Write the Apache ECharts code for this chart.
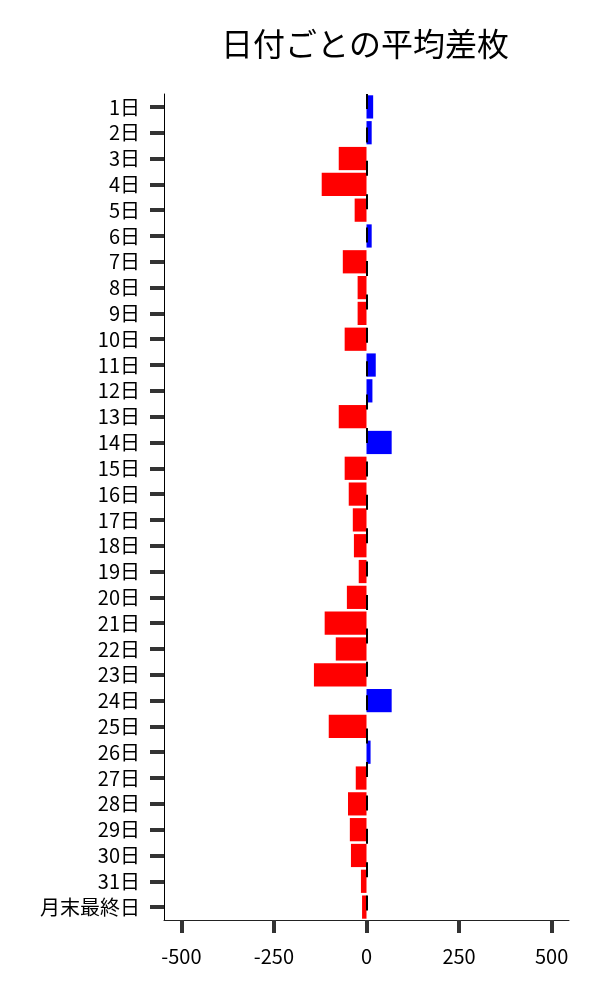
<!DOCTYPE html>
<html>
<head>
<meta charset="utf-8">
<script src="https://cdn.jsdelivr.net/npm/echarts@6/dist/echarts.min.js"></script>
<style>html,body{margin:0;padding:0;background:#fff}#c{width:600px;height:1000px}</style>
</head>
<body>
<div id="c"></div>
<script>
const categories = ['1日','2日','3日','4日','5日','6日','7日','8日','9日','10日','11日','12日','13日','14日','15日','16日','17日','18日','19日','20日','21日','22日','23日','24日','25日','26日','27日','28日','29日','30日','31日','月末最終日'];
const values = [18, 14, -75, -121, -32, 14, -64, -24, -24, -59, 25, 16, -75, 68, -59, -48, -37, -34, -21, -53, -113, -83, -142, 68, -102, 11, -29, -50, -45, -42, -15, -12];
const xTicks = [-500, -250, 0, 250, 500];
const titleText = '日付ごとの平均差枚';

const font = '"Noto Sans CJK JP", "Noto Sans", sans-serif';
const chart = echarts.init(document.getElementById('c'), null, {renderer: 'canvas'});
chart.setOption({
  animation: false,
  backgroundColor: '#fff',
  title: {
    text: titleText, left: 360, top: 23, textAlign: 'center',
    textStyle: {fontFamily: font, fontSize: 32, fontWeight: 'normal', color: '#000'}
  },
  grid: {left: 164, right: 31, top: 94, height: 826, containLabel: false},
  xAxis: {
    type: 'value', min: -547, max: 547,
    splitLine: {show: false},
    axisLine: {show: true, onZero: false, lineStyle: {color: '#222', width: 1}},
    axisTick: {show: true, length: 13, lineStyle: {color: '#333', width: 4}, customValues: xTicks},
    axisLabel: {fontFamily: font, fontSize: 20, color: '#000', margin: 26, customValues: xTicks}
  },
  yAxis: {
    type: 'category', data: categories, inverse: true,
    axisLine: {show: true, onZero: false, lineStyle: {color: '#000', width: 1}},
    axisTick: {show: true, alignWithLabel: true, interval: 0, length: 14, lineStyle: {color: '#333', width: 4}},
    axisLabel: {fontFamily: font, fontSize: 20, color: '#000', margin: 24, interval: 0, hideOverlap: false}
  },
  series: [
    {
      type: 'bar', z: 2, barCategoryGap: '10%',
      data: values.map(v => ({value: v, itemStyle: {color: v >= 0 ? '#0000ff' : '#ff0000'}}))
    },
    {
      type: 'line', data: [], z: 3, silent: true,
      markLine: {
        silent: true, symbol: 'none', animation: false,
        label: {show: false},
        lineStyle: {color: '#000', width: 2, type: [15, 18.4], dashOffset: 0},
        data: [{xAxis: 0}]
      }
    }
  ]
});
</script>
</body>
</html>
